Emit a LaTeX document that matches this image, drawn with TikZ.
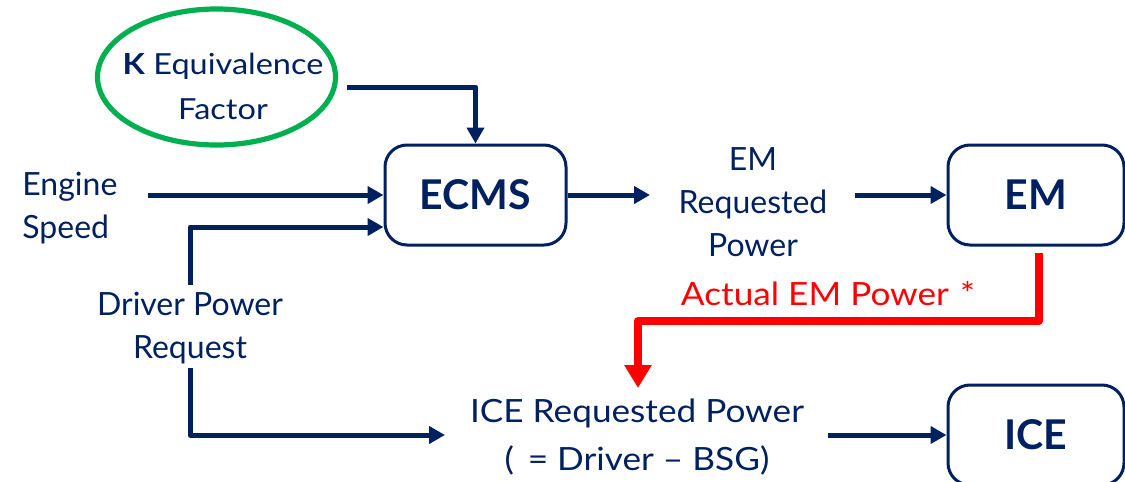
\documentclass[tikz,border=0pt]{standalone}
\usepackage{fontspec}
\setmainfont{Lato}
\newfontfamily\widea[FakeStretch=1.1]{Lato}
\newfontfamily\wideb[FakeStretch=1.12]{Lato}
\usetikzlibrary{arrows.meta,shapes.geometric}
\definecolor{navy}{HTML}{002060}
\definecolor{kgreen}{HTML}{00B050}
\definecolor{ared}{HTML}{FF0000}
\begin{document}
\begin{tikzpicture}[x=0.5pt,y=-0.5pt,
  lbl/.style={text=navy,font=\fontsize{16}{21.5}\selectfont,inner sep=0pt,align=center},
  blk/.style={draw=navy,line width=1.5pt,rounded corners=11pt,minimum height=50pt,
    text=navy,font=\fontsize{20.5}{24}\selectfont\bfseries,inner sep=0pt},
  kring/.style={draw=kgreen,line width=2.6pt,ellipse,minimum width=119pt,minimum height=68pt,inner sep=0pt},
  arr/.style={draw=navy,line width=2.5pt,line join=round,-{Triangle[length=8pt,width=8.5pt]}},
  redarr/.style={draw=ared,line width=4pt,line join=round,-{Triangle[length=11.5pt,width=13pt]}}]
\useasboundingbox (0,0) rectangle (1125,482);
% blocks
\node[blk,minimum width=90.5pt] (ecms) at (475.5,195) {ECMS};
\node[blk,minimum width=88pt] (em) at (1036,195) {EM};
\node[blk,minimum width=88pt] (ice) at (1036,435) {ICE};
% ellipse
\node[kring] (k) at (216.5,77) {};
\node[lbl,font=\wideb\fontsize{14.5}{22.5}\selectfont,anchor=base] (ktxt) at (223,119) {\textbf{K} Equivalence\\Factor};
% labels
\node[lbl,align=left,anchor=base west] (eng) at (22,238) {Engine\\Speed};
\node[lbl,anchor=base] (drv) at (190,358) {Driver Power\\Request};
\node[lbl,anchor=base] (emreq) at (753,256.5) {EM\\Requested\\Power};
\node[lbl,font=\widea\fontsize{16}{21.5}\selectfont,text=ared,anchor=base] (act) at (828,305) {Actual EM Power\hspace{0.35em}*};
\node[lbl,font=\widea\fontsize{16}{24}\selectfont,anchor=base] (icereq) at (637,470) {ICE Requested Power\\(\hspace{0.15em} = Driver – BSG)};
% free ends
\coordinate (kout) at (347,87);
\coordinate (engout) at (148,195);
\coordinate (drvtop) at (190,285);
\coordinate (drvbot) at (190,368);
\coordinate (icein) at (445,435);
\coordinate (emin) at (650,195);
\coordinate (emout) at (855,195);
\coordinate (redstart) at (1039,253);
\coordinate (redbend) at (638,321);
\coordinate (redend) at (638,388);
\coordinate (iceout) at (828,435);
% connectors
\draw[arr] (kout) -| (ecms.north);
\draw[arr] (engout) -- (ecms.west);
\draw[arr] (drvtop) |- ([yshift=-16pt]ecms.west);
\draw[arr] (drvbot) |- (icein);
\draw[arr] (ecms.east) -- (emin);
\draw[arr] (emout) -- (em.west);
\draw[redarr] (redstart) |- (redbend) -- (redend);
\draw[arr] (iceout) -- (ice.west);
\end{tikzpicture}
\end{document}
